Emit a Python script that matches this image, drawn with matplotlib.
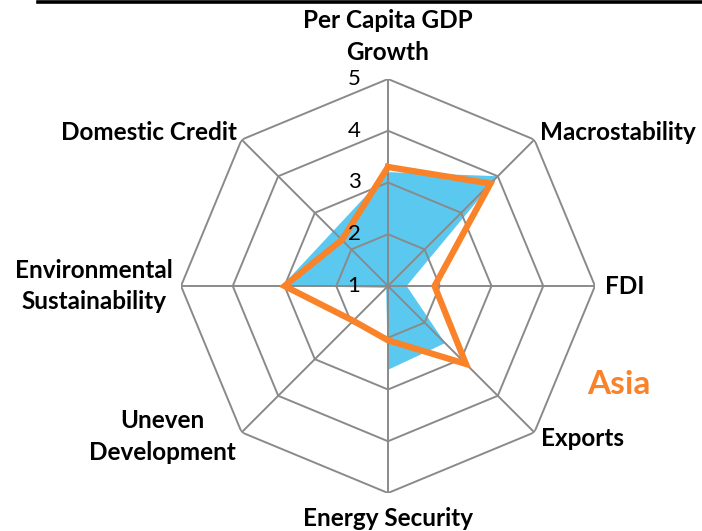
#!/usr/bin/env python3
"""
Radar chart — Asia scorecard (8 indicators, scale 1-5)
"""
import numpy as np
import matplotlib.pyplot as plt
from matplotlib.lines import Line2D

plt.rcParams['font.family'] = ['Lato', 'DejaVu Sans']

# ── Data ──
categories = ['Per Capita GDP\nGrowth', 'Macrostability', 'FDI', 'Exports',
              'Energy Security', 'Uneven\nDevelopment',
              'Environmental\nSustainability', 'Domestic Credit']
blue_vals   = [3.2, 4.0, 1.36, 2.56, 2.62, 1.05, 3.05, 2.5]
orange_vals = [3.3, 3.8, 1.9, 3.13, 2.05, 1.95, 3.0, 2.26]
levels = [1, 2, 3, 4, 5]
series_label = 'Asia'

# ── Styles ──
BLUE = '#5BC8F0'
ORANGE = '#FA8228'
GRID = '#8A8A8A'

n = len(categories)
theta = np.linspace(0, 2 * np.pi, n, endpoint=False)
theta_c = np.append(theta, theta[0])

def closed(v):
    return np.append(v, v[0])

fig = plt.figure(figsize=(7.02, 5.31), dpi=100)
ax = fig.add_axes([181 / 702, 38 / 531, 414 / 702, 414 / 531], projection='polar')
ax.set_theta_offset(np.pi / 2)
ax.set_theta_direction(-1)
ax.set_ylim(levels[0], levels[-1])
ax.grid(False)
ax.spines['polar'].set_visible(False)
ax.set_xticks([])
ax.set_yticks([])
ax.patch.set_visible(False)

# blue filled series (below grid)
ax.fill(theta_c, closed(blue_vals), color=BLUE, lw=0, zorder=1)

# octagon rings + spokes
for lv in levels[1:]:
    ax.plot(theta_c, [lv] * (n + 1), color=GRID, lw=1.4, zorder=2)
for t in theta:
    ax.plot([t, t], [levels[0], levels[-1]], color=GRID, lw=1.4, zorder=2)

# orange line series
ax.plot(theta_c, closed(orange_vals), color=ORANGE, lw=4.5, zorder=3,
        solid_joinstyle='miter')

# level tick labels
for lv in levels:
    ax.annotate(str(lv), xy=(0, lv), xytext=(-34, 0), textcoords='offset pixels',
                ha='center', va='center', fontsize=16, color='black', zorder=4)

# category labels
label_pos = [
    ((0, 15), 'center', 'bottom'),
    ((6, 7), 'left', 'center'),
    ((10, 0), 'left', 'center'),
    ((7, -6), 'left', 'center'),
    ((0, -14), 'center', 'top'),
    ((-6, -4), 'right', 'center'),
    ((-8, 0), 'right', 'center'),
    ((-5, 7), 'right', 'center'),
]
for t, lab, (off, ha, va) in zip(theta, categories, label_pos):
    ax.annotate(lab, xy=(t, levels[-1]), xytext=off, textcoords='offset pixels',
                ha=ha, va=va, multialignment='center', fontsize=17.5,
                fontweight='bold', linespacing=1.45, annotation_clip=False)

# series label
fig.text(619 / 702, 1 - 385 / 531, series_label, color=ORANGE, fontsize=24,
         fontweight='bold', ha='center', va='center')

# top rule
fig.add_artist(Line2D([38 / 702, 1], [1 - 2 / 531, 1 - 2 / 531],
                      color='black', lw=2.6))

fig.savefig('out.png', dpi=100)
